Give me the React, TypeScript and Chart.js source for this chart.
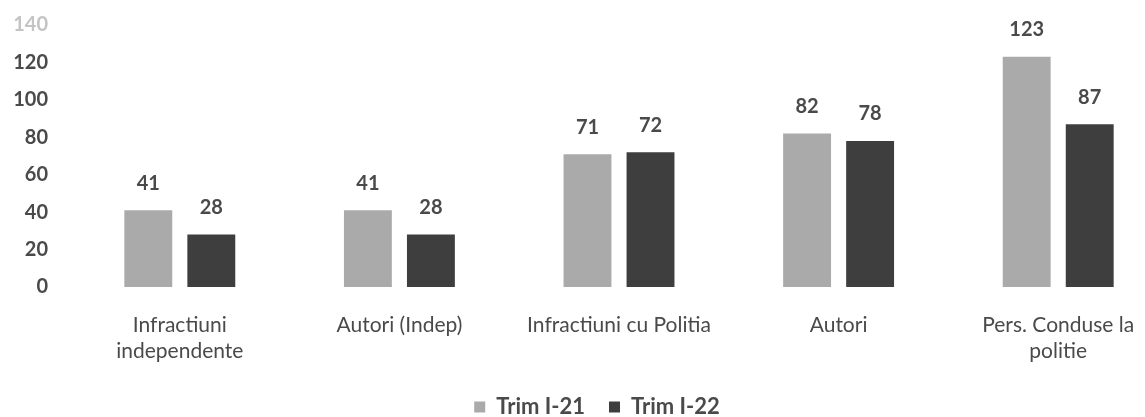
import React, { useEffect, useRef } from "react";
import { Chart, registerables } from "chart.js";

Chart.register(...registerables);

const categories: (string | string[])[] = [
  ["Infractiuni", "independente"],
  "Autori (Indep)",
  "Infractiuni cu Politia",
  "Autori",
  ["Pers. Conduse la", "politie"],
];
const seriesNames = ["Trim I-21", "Trim I-22"];
const trim21 = [41, 41, 71, 82, 123];
const trim22 = [28, 28, 72, 78, 87];
const yTicks = [0, 20, 40, 60, 80, 100, 120, 140];

const FONT = "Lato, 'Open Sans', sans-serif";
const TEXT = "#4a4a4a";
// target page positions (px) of the axis ends and the legend text line
const TOP_PX = 25;
const BOTTOM_PX = 287;
const LEGEND_PX = 407;

const state = { xHeight: 109, lgDy: 0 };

const valueLabels = {
  id: "valueLabels",
  afterDatasetsDraw(chart: any) {
    const ctx = chart.ctx;
    ctx.save();
    ctx.font = `bold 20px ${FONT}`;
    ctx.fillStyle = TEXT;
    ctx.textAlign = "center";
    ctx.textBaseline = "middle";
    chart.data.datasets.forEach((ds: any, i: number) => {
      const meta = chart.getDatasetMeta(i);
      meta.data.forEach((el: any, j: number) => {
        ctx.fillText(String(ds.data[j]), el.x, el.y - 27);
      });
    });
    ctx.restore();
  },
};

const legendShift = {
  id: "legendShift",
  afterLayout(chart: any) {
    const lg = chart.legend;
    if (lg) {
      lg.top += state.lgDy;
      lg.bottom += state.lgDy;
      lg.left += 25;
      lg.right += 25;
    }
  },
};

export default function App() {
  const ref = useRef<HTMLCanvasElement>(null);
  useEffect(() => {
    if (!ref.current) return;
    state.xHeight = 109;
    state.lgDy = 0;
    const chart: any = new Chart(ref.current, {
      type: "bar",
      data: {
        labels: categories,
        datasets: [
          { label: seriesNames[0], data: trim21, backgroundColor: "#aaaaaa", barPercentage: 0.76, categoryPercentage: 0.574 },
          { label: seriesNames[1], data: trim22, backgroundColor: "#3e3e3e", barPercentage: 0.76, categoryPercentage: 0.574 },
        ],
      },
      options: {
        animation: false,
        responsive: false,
        maintainAspectRatio: false,
        layout: { autoPadding: false, padding: { top: 16, right: 1, bottom: 0, left: 0 } },
        plugins: {
          tooltip: { enabled: false },
          legend: {
            position: "bottom",
            labels: { boxWidth: 11, boxHeight: 11, color: TEXT, font: { family: FONT, size: 22, weight: "bold" }, padding: 24 },
          },
        },
        scales: {
          x: {
            grid: { display: false, drawTicks: false },
            border: { display: false },
            afterFit: (scale: any) => { scale.height = state.xHeight; },
            ticks: { color: TEXT, font: { family: FONT, size: 21, lineHeight: 1.2 }, padding: 26, maxRotation: 0, autoSkip: false },
          },
          y: {
            min: 0,
            max: 140,
            grid: { display: false, drawTicks: false },
            border: { display: false },
            afterFit: (scale: any) => { scale.width = 94; },
            afterBuildTicks: (scale: any) => { scale.ticks = yTicks.map((v) => ({ value: v })); },
            ticks: {
              color: (c: any) => (c.tick && c.tick.value === 140 ? "#c4c4c4" : TEXT),
              font: { family: FONT, size: 20, weight: "bold" },
              padding: 22,
            },
          },
        },
      },
      plugins: [valueLabels, legendShift],
    });
    for (let k = 0; k < 6; k++) {
      const ys = chart.scales.y;
      const pTop = ys.getPixelForValue(140);
      const pZero = ys.getPixelForValue(0);
      const d = pTop - TOP_PX;
      const dh = Math.round(pZero - pTop - (BOTTOM_PX - TOP_PX));
      const lgBase = chart.legend.top - state.lgDy;
      const wantLg = Math.round(LEGEND_PX + d - (lgBase + 35));
      if (!dh && wantLg === state.lgDy) break;
      state.xHeight += dh;
      state.lgDy = wantLg;
      chart.update();
    }
    const offset = chart.scales.y.getPixelForValue(140) - TOP_PX;
    ref.current.style.top = `${-offset}px`;
    return () => chart.destroy();
  }, []);
  return (
    <div style={{ position: "absolute", left: 0, top: 0, width: 1145, height: 417, overflow: "hidden", background: "#fff" }}>
      <canvas ref={ref} width={1193} height={460} style={{ position: "absolute", left: -24, top: 0 }} />
    </div>
  );
}
